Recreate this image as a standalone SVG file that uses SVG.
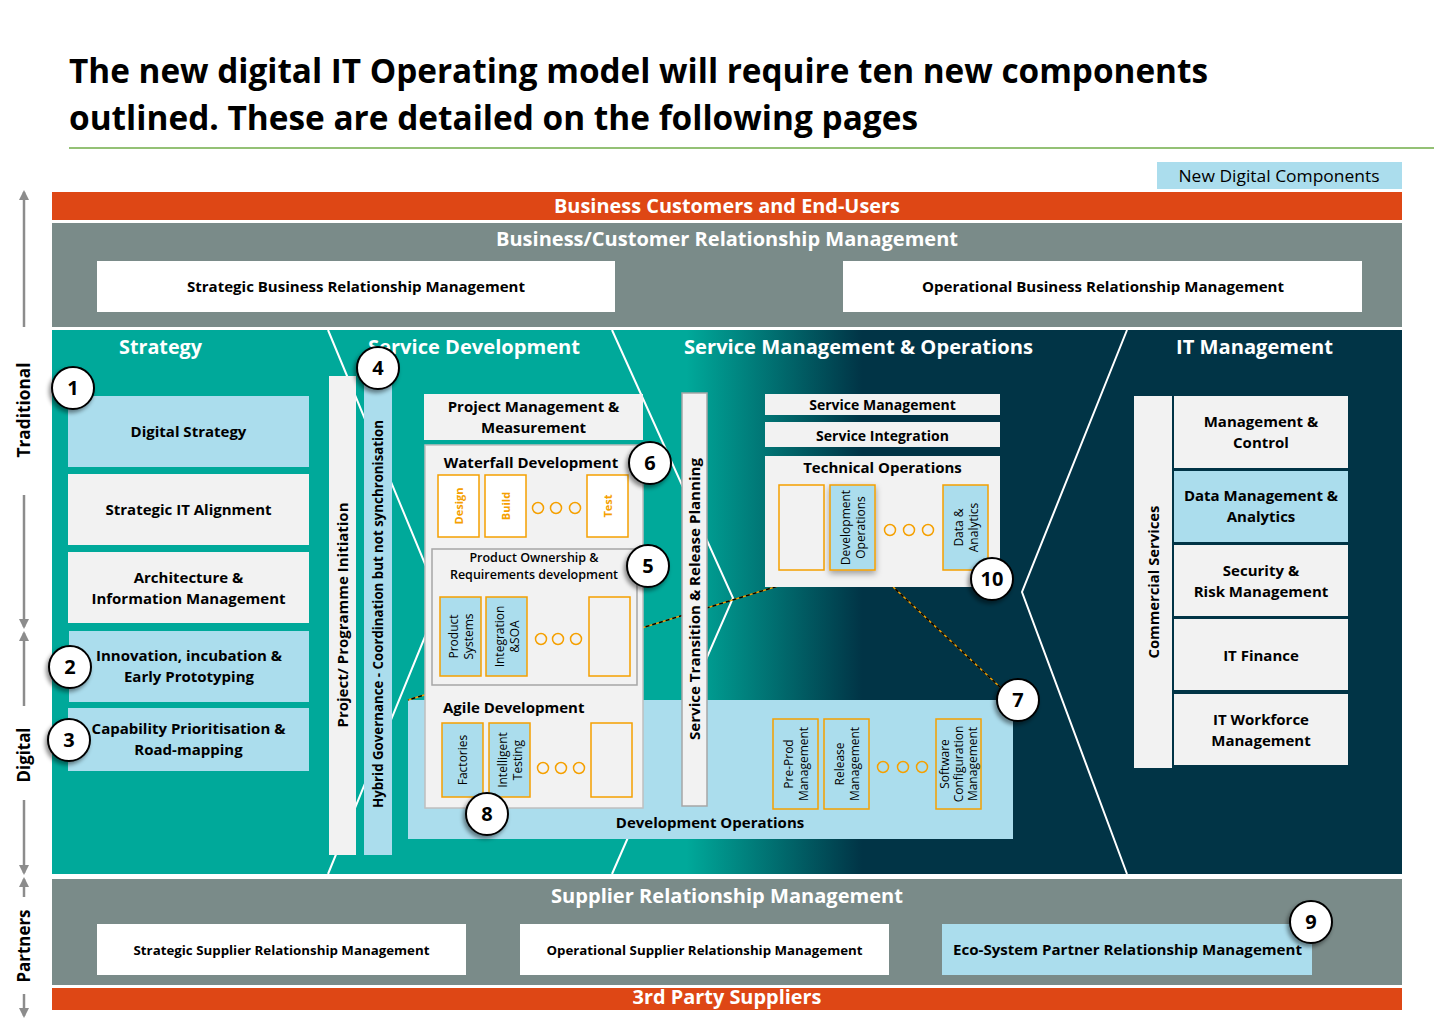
<svg xmlns="http://www.w3.org/2000/svg" width="1434" height="1018" viewBox="0 0 1434 1018">
<defs>
<linearGradient id="mainGrad" x1="52" y1="0" x2="1402" y2="0" gradientUnits="userSpaceOnUse">
<stop offset="0" stop-color="#00A99A"/>
<stop offset="0.47" stop-color="#00A99A"/>
<stop offset="0.6" stop-color="#013446"/>
<stop offset="1" stop-color="#013446"/>
</linearGradient>
<filter id="sh" x="-40%" y="-40%" width="180%" height="180%">
<feDropShadow dx="-2" dy="3" stdDeviation="2" flood-color="#000" flood-opacity="0.45"/>
</filter>
<filter id="sh2" x="-30%" y="-30%" width="160%" height="160%">
<feDropShadow dx="0" dy="3" stdDeviation="3" flood-color="#000" flood-opacity="0.35"/>
</filter>
<marker id="ah" viewBox="0 0 10 10" refX="8" refY="5" markerWidth="4" markerHeight="4" orient="auto-start-reverse">
<path d="M0,0 L10,5 L0,10 z" fill="#8C8C8C"/>
</marker>
<style>
text { font-family: "Open Sans", "Liberation Sans", sans-serif; }
.b { font-weight: 700; }
.sb { font-weight: 600; }
.w { fill: #FFFFFF; }
.k { fill: #000000; }
.c { text-anchor: middle; }
.t20 { font-size: 20px; }
.t15 { font-size: 15px; }
.t14 { font-size: 14px; }
.t13 { font-size: 13px; }
.t12 { font-size: 12px; }
.lb { fill: #ABDDED; }
.lg { fill: #F2F2F2; }
.wh { fill: #FFFFFF; }
.ob { stroke: #F5A000; stroke-width: 1.5; }
.gb { stroke: #A6A6A6; stroke-width: 1.5; }
.dot { fill: none; stroke: #F5A000; stroke-width: 1.5; }
.chev { fill: none; stroke: #FFFFFF; stroke-width: 2; }
.num circle { fill: #FFFFFF; stroke: #000000; stroke-width: 2; filter: url(#sh); }
.num text { font-size: 20px; font-weight: 700; text-anchor: middle; fill: #000; }
.orot { font-size: 11px; font-weight: 700; fill: #F5A000; text-anchor: middle; }
.rot { font-size: 12px; fill: #000; text-anchor: middle; }
.axis line { stroke: #8C8C8C; stroke-width: 2.5; }
</style>
</defs>

<rect x="0" y="0" width="1434" height="1018" fill="#FFFFFF"/>

<g id="title">
<text class="b k" x="69" y="83" font-size="34" textLength="1139" lengthAdjust="spacingAndGlyphs">The new digital IT Operating model will require ten new components</text>
<text class="b k" x="69" y="130" font-size="34" textLength="849" lengthAdjust="spacingAndGlyphs">outlined. These are detailed on the following pages</text>
<line x1="69" y1="148" x2="1434" y2="148" stroke="#70AD47" stroke-width="1.5"/>
</g>

<g id="legend">
<rect x="1157" y="162" width="245" height="27" class="lb"/>
<text class="c k" x="1279" y="182" font-size="17" textLength="201" lengthAdjust="spacingAndGlyphs">New Digital Components</text>
</g>

<g id="axis" class="axis">
<line x1="24" y1="327" x2="24" y2="192" marker-end="url(#ah)"/>
<line x1="24" y1="495" x2="24" y2="627" marker-end="url(#ah)"/>
<line x1="24" y1="706" x2="24" y2="633" marker-end="url(#ah)"/>
<line x1="24" y1="800" x2="24" y2="873" marker-end="url(#ah)"/>
<line x1="24" y1="897" x2="24" y2="879" marker-end="url(#ah)"/>
<line x1="24" y1="994" x2="24" y2="1016" marker-end="url(#ah)"/>
<text class="b k c" font-size="17" transform="translate(30,410) rotate(-90)" textLength="95" lengthAdjust="spacingAndGlyphs">Traditional</text>
<text class="b k c" font-size="17" transform="translate(30,755) rotate(-90)" textLength="55" lengthAdjust="spacingAndGlyphs">Digital</text>
<text class="b k c" font-size="17" transform="translate(30,946) rotate(-90)" textLength="73" lengthAdjust="spacingAndGlyphs">Partners</text>
</g>

<g id="business-customers">
<rect x="52" y="192" width="1350" height="28" fill="#DE4715"/>
<text class="b w c t20" x="727" y="213" textLength="346" lengthAdjust="spacingAndGlyphs">Business Customers and End-Users</text>
</g>

<g id="business-relationship">
<rect x="52" y="223" width="1350" height="104" fill="#7A8B89"/>
<text class="b w c t20" x="727" y="246" textLength="462" lengthAdjust="spacingAndGlyphs">Business/Customer Relationship Management</text>
</g>
<g id="strategic-brm">
<rect x="97" y="261" width="518" height="51" class="wh"/>
<text class="b k c t14" x="356" y="292" textLength="338" lengthAdjust="spacingAndGlyphs">Strategic Business Relationship Management</text>
</g>
<g id="operational-brm">
<rect x="843" y="261" width="519" height="51" class="wh"/>
<text class="b k c t14" x="1103" y="292" textLength="362" lengthAdjust="spacingAndGlyphs">Operational Business Relationship Management</text>
</g>

<g id="main-area">
<rect x="52" y="330" width="1350" height="544" fill="url(#mainGrad)"/>
<polyline class="chev" points="328,330 440,600 328,874"/>
<polyline class="chev" points="612,330 733,598 612,874"/>
<polyline class="chev" points="1127,330 1022,592 1127,874"/>
<text class="b w c t20" x="160.5" y="354" textLength="83" lengthAdjust="spacingAndGlyphs">Strategy</text>
<text class="b w c t20" x="474" y="354" textLength="212" lengthAdjust="spacingAndGlyphs">Service Development</text>
<text class="b w c t20" x="858.5" y="354" textLength="349" lengthAdjust="spacingAndGlyphs">Service Management &amp; Operations</text>
<text class="b w c t20" x="1254.5" y="354" textLength="157" lengthAdjust="spacingAndGlyphs">IT Management</text>
</g>

<g id="development-operations">
<rect x="408" y="700" width="605" height="139" class="lb"/>
<text class="b k c t15" x="710" y="828">Development Operations</text>
<rect x="773" y="719" width="45" height="90" class="lb ob"/>
<text class="rot" transform="translate(795.5,764) rotate(-90)"><tspan x="0" y="-3">Pre-Prod</tspan><tspan x="0" y="12">Management</tspan></text>
<rect x="824" y="719" width="45" height="90" class="lb ob"/>
<text class="rot" transform="translate(846.5,764) rotate(-90)"><tspan x="0" y="-3">Release</tspan><tspan x="0" y="12">Management</tspan></text>
<circle cx="883" cy="767" r="5.5" class="dot"/>
<circle cx="903" cy="767" r="5.5" class="dot"/>
<circle cx="922" cy="767" r="5.5" class="dot"/>
<rect x="936" y="719" width="45" height="90" class="lb ob"/>
<text class="rot" transform="translate(958.5,764) rotate(-90)"><tspan x="0" y="-10">Software</tspan><tspan x="0" y="4">Configuration</tspan><tspan x="0" y="18">Management</tspan></text>
</g>

<g id="connectors">
<line x1="830" y1="570" x2="408" y2="700" stroke="#F5A000" stroke-width="1.5"/>
<line x1="830" y1="570" x2="408" y2="700" stroke="#000" stroke-width="1.5" stroke-dasharray="4,3"/>
<line x1="875" y1="570" x2="1001" y2="688" stroke="#F5A000" stroke-width="1.5"/>
<line x1="875" y1="570" x2="1001" y2="688" stroke="#000" stroke-width="1.5" stroke-dasharray="4,3"/>
</g>

<g id="digital-strategy">
<rect x="68" y="396" width="241" height="71" class="lb"/>
<text class="b k c t15" x="188.5" y="437">Digital Strategy</text>
</g>
<g id="strategic-it-alignment">
<rect x="68" y="474" width="241" height="71" class="lg"/>
<text class="b k c t15" x="188.5" y="515">Strategic IT Alignment</text>
</g>
<g id="architecture">
<rect x="68" y="552" width="241" height="71" class="lg"/>
<text class="b k c t15" x="188.5" y="583">Architecture &amp;</text>
<text class="b k c t15" x="188.5" y="604">Information Management</text>
</g>
<g id="innovation">
<rect x="69" y="631" width="240" height="71" class="lb"/>
<text class="b k c t15" x="189" y="661">Innovation, incubation &amp;</text>
<text class="b k c t15" x="189" y="682">Early Prototyping</text>
</g>
<g id="capability">
<rect x="68" y="708" width="241" height="63" class="lb"/>
<text class="b k c t15" x="188.5" y="734">Capability Prioritisation &amp;</text>
<text class="b k c t15" x="188.5" y="755">Road-mapping</text>
</g>

<g id="project-initiation">
<rect x="329" y="376" width="27" height="479" class="lg"/>
<text class="b k c t15" transform="translate(348,615) rotate(-90)" textLength="225" lengthAdjust="spacingAndGlyphs">Project/ Programme Initiation</text>
</g>
<g id="hybrid-governance">
<rect x="364" y="376" width="28" height="479" class="lb"/>
<text class="b k c" font-size="14" transform="translate(383,614) rotate(-90)" textLength="388" lengthAdjust="spacingAndGlyphs">Hybrid Governance - Coordination but not synchronisation</text>
</g>

<g id="project-management">
<rect x="424" y="394" width="219" height="46" class="lg"/>
<text class="b k c t15" x="533.5" y="412">Project Management &amp;</text>
<text class="b k c t15" x="533.5" y="433">Measurement</text>
</g>

<g id="waterfall">
<rect x="425" y="445" width="218" height="363" class="lg" stroke="#BFBFBF" stroke-width="1.5"/>
<text class="b k c t15" x="531" y="468">Waterfall Development</text>
<rect x="438" y="475" width="41" height="62" class="wh ob"/>
<text class="orot" transform="translate(458.5,506) rotate(-90)" y="4">Design</text>
<rect x="485" y="475" width="41" height="62" class="wh ob"/>
<text class="orot" transform="translate(505.5,506) rotate(-90)" y="4">Build</text>
<circle cx="538" cy="508" r="5.5" class="dot"/>
<circle cx="556" cy="508" r="5.5" class="dot"/>
<circle cx="575" cy="508" r="5.5" class="dot"/>
<rect x="587" y="475" width="41" height="62" class="wh ob"/>
<text class="orot" transform="translate(607.5,506) rotate(-90)" y="4">Test</text>
</g>

<g id="product-ownership">
<rect x="432" y="549" width="205" height="136" class="lg gb"/>
<text class="sb k c" font-size="12.5" x="534" y="562">Product Ownership &amp;</text>
<text class="sb k c" font-size="12.5" x="534" y="579">Requirements development</text>
<rect x="440" y="597" width="41" height="79" class="lb ob"/>
<text class="rot" transform="translate(460.5,636.5) rotate(-90)"><tspan x="0" y="-3">Product</tspan><tspan x="0" y="12">Systems</tspan></text>
<rect x="486" y="597" width="41" height="79" class="lb ob"/>
<text class="rot" transform="translate(506.5,636.5) rotate(-90)"><tspan x="0" y="-3">Integration</tspan><tspan x="0" y="12">&amp;SOA</tspan></text>
<circle cx="541" cy="639" r="5.5" class="dot"/>
<circle cx="558" cy="639" r="5.5" class="dot"/>
<circle cx="576" cy="639" r="5.5" class="dot"/>
<rect x="589" y="597" width="41" height="79" class="lg ob"/>
</g>

<g id="agile">
<text class="b k t15" x="443" y="713">Agile Development</text>
<rect x="442" y="723" width="41" height="74" class="lb ob"/>
<text class="rot" transform="translate(462.5,760) rotate(-90)" y="4">Factories</text>
<rect x="489" y="723" width="41" height="74" class="lb ob"/>
<text class="rot" transform="translate(509.5,760) rotate(-90)"><tspan x="0" y="-3">Intelligent</tspan><tspan x="0" y="12">Testing</tspan></text>
<circle cx="543" cy="768" r="5.5" class="dot"/>
<circle cx="561" cy="768" r="5.5" class="dot"/>
<circle cx="579" cy="768" r="5.5" class="dot"/>
<rect x="591" y="723" width="41" height="74" class="lg ob"/>
</g>

<g id="service-transition">
<rect x="682" y="393" width="25" height="413" class="lg gb"/>
<text class="b k c t15" transform="translate(700,599) rotate(-90)" textLength="282" lengthAdjust="spacingAndGlyphs">Service Transition &amp; Release Planning</text>
</g>

<g id="service-management">
<rect x="765" y="394" width="235" height="21" class="lg"/>
<text class="b k c t14" x="882.5" y="410">Service Management</text>
</g>
<g id="service-integration">
<rect x="765" y="422" width="235" height="25" class="lg"/>
<text class="b k c t14" x="882.5" y="441">Service Integration</text>
</g>
<g id="technical-operations">
<rect x="765" y="456" width="235" height="131" class="lg"/>
<text class="b k c t15" x="882.5" y="473">Technical Operations</text>
<rect x="779" y="485" width="45" height="85" class="lg ob"/>
<rect x="830" y="485" width="45" height="85" class="lb ob" filter="url(#sh2)"/>
<text class="rot" transform="translate(852.5,527.5) rotate(-90)"><tspan x="0" y="-3">Development</tspan><tspan x="0" y="12">Operations</tspan></text>
<circle cx="890" cy="530" r="5.5" class="dot"/>
<circle cx="909" cy="530" r="5.5" class="dot"/>
<circle cx="928" cy="530" r="5.5" class="dot"/>
<rect x="943" y="485" width="45" height="85" class="lb ob"/>
<text class="rot" transform="translate(965.5,527.5) rotate(-90)"><tspan x="0" y="-3">Data &amp;</tspan><tspan x="0" y="12">Analytics</tspan></text>
</g>

<g id="commercial-services">
<rect x="1134" y="396" width="38" height="372" class="lg"/>
<text class="b k c t15" transform="translate(1159,582) rotate(-90)" textLength="153" lengthAdjust="spacingAndGlyphs">Commercial Services</text>
</g>
<g id="management-control">
<rect x="1174" y="396" width="174" height="72" class="lg"/>
<text class="b k c t15" x="1261" y="427">Management &amp;</text>
<text class="b k c t15" x="1261" y="448">Control</text>
</g>
<g id="data-management">
<rect x="1174" y="471" width="174" height="71" class="lb"/>
<text class="b k c t15" x="1261" y="501">Data Management &amp;</text>
<text class="b k c t15" x="1261" y="522">Analytics</text>
</g>
<g id="security-risk">
<rect x="1174" y="545" width="174" height="71" class="lg"/>
<text class="b k c t15" x="1261" y="576">Security &amp;</text>
<text class="b k c t15" x="1261" y="597">Risk Management</text>
</g>
<g id="it-finance">
<rect x="1174" y="619" width="174" height="71" class="lg"/>
<text class="b k c t15" x="1261" y="661">IT Finance</text>
</g>
<g id="it-workforce">
<rect x="1174" y="694" width="174" height="71" class="lg"/>
<text class="b k c t15" x="1261" y="725">IT Workforce</text>
<text class="b k c t15" x="1261" y="746">Management</text>
</g>

<g id="supplier-relationship">
<rect x="52" y="879" width="1350" height="106" fill="#7A8B89"/>
<text class="b w c t20" x="727" y="903" textLength="352" lengthAdjust="spacingAndGlyphs">Supplier Relationship Management</text>
</g>
<g id="strategic-srm">
<rect x="97" y="924" width="369" height="51" class="wh"/>
<text class="b k c t13" x="281.5" y="955" textLength="296" lengthAdjust="spacingAndGlyphs">Strategic Supplier Relationship Management</text>
</g>
<g id="operational-srm">
<rect x="520" y="924" width="369" height="51" class="wh"/>
<text class="b k c t13" x="704.5" y="955" textLength="316" lengthAdjust="spacingAndGlyphs">Operational Supplier Relationship Management</text>
</g>
<g id="eco-system">
<rect x="942" y="924" width="370" height="51" class="lb"/>
<text class="b k c t14" x="1127.5" y="955" textLength="349" lengthAdjust="spacingAndGlyphs">Eco-System Partner Relationship Management</text>
</g>
<g id="third-party">
<rect x="52" y="988" width="1350" height="22" fill="#DE4715"/>
<text class="b w c t20" x="727" y="1004" textLength="189" lengthAdjust="spacingAndGlyphs">3rd Party Suppliers</text>
</g>

<g id="numbers" class="num">
<g id="n1"><circle cx="73" cy="388" r="21"/><text x="73" y="395">1</text></g>
<g id="n2"><circle cx="70" cy="667" r="21"/><text x="70" y="674">2</text></g>
<g id="n3"><circle cx="69" cy="740" r="21"/><text x="69" y="747">3</text></g>
<g id="n4"><circle cx="378" cy="368" r="21"/><text x="378" y="375">4</text></g>
<g id="n5"><circle cx="648" cy="566" r="21"/><text x="648" y="573">5</text></g>
<g id="n6"><circle cx="650" cy="463" r="21"/><text x="650" y="470">6</text></g>
<g id="n7"><circle cx="1018" cy="700" r="21"/><text x="1018" y="707">7</text></g>
<g id="n8"><circle cx="487" cy="814" r="21"/><text x="487" y="821">8</text></g>
<g id="n9"><circle cx="1311" cy="922" r="21"/><text x="1311" y="929">9</text></g>
<g id="n10"><circle cx="992" cy="579" r="21"/><text x="992" y="586">10</text></g>
</g>
</svg>
